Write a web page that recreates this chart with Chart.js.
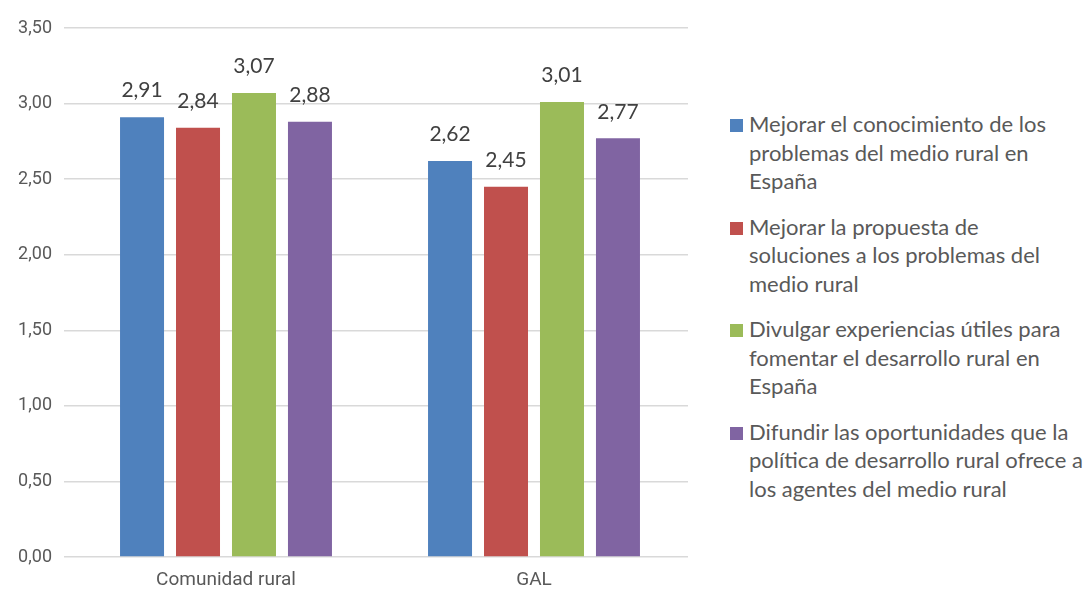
<!DOCTYPE html>
<html>
<head>
<meta charset="utf-8">
<script src="https://cdn.jsdelivr.net/npm/chart.js@4/dist/chart.umd.min.js"></script>
<style>
  body { margin: 0; background: #fff; }
  #wrap { position: relative; width: 1092px; height: 595px; }
  #box { position: absolute; left: 0; top: 0; width: 690px; height: 595px; }
  #legend { position: absolute; left: 730px; top: 110px; width: 362px;
    font-family: Lato, sans-serif; font-size: 22px; color: #595959; line-height: 28.5px; }
  .item { position: relative; padding-left: 19px; margin-bottom: 17px; white-space: pre-line; }
  .item span { position: absolute; left: 0; top: 9px; width: 13px; height: 13px; }
</style>
</head>
<body>
<div id="wrap">
  <div id="box"><canvas id="chart"></canvas></div>
  <div id="legend"></div>
</div>
<script>
const categories = ['Comunidad rural', 'GAL'];
const seriesNames = [
  'Mejorar el conocimiento de los\nproblemas del medio rural en\nEspaña',
  'Mejorar la propuesta de\nsoluciones a los problemas del\nmedio rural',
  'Divulgar experiencias útiles para\nfomentar el desarrollo rural en\nEspaña',
  'Difundir las oportunidades que la\npolítica de desarrollo rural ofrece a\nlos agentes del medio rural'
];
const mejorarConocimiento = [2.91, 2.62];
const mejorarPropuesta = [2.84, 2.45];
const divulgar = [3.07, 3.01];
const difundir = [2.88, 2.77];
const colors = ['#4F81BD', '#C0504D', '#9BBB59', '#8064A2'];

const fmt = v => v.toFixed(2).replace('.', ',');

// value labels above each bar
const valueLabels = {
  id: 'valueLabels',
  afterDatasetsDraw(chart) {
    const ctx = chart.ctx;
    ctx.save();
    ctx.font = '21px Lato, sans-serif';
    ctx.fillStyle = '#404040';
    ctx.textAlign = 'center';
    ctx.textBaseline = 'bottom';
    chart.data.datasets.forEach((ds, i) => {
      chart.getDatasetMeta(i).data.forEach((bar, j) => {
        ctx.fillText(fmt(ds.data[j]), bar.x, bar.y - 16);
      });
    });
    ctx.restore();
  }
};

const allSeries = [mejorarConocimiento, mejorarPropuesta, divulgar, difundir];

new Chart(document.getElementById('chart'), {
  type: 'bar',
  data: {
    labels: categories,
    datasets: allSeries.map((d, i) => ({
      label: seriesNames[i],
      data: d,
      backgroundColor: colors[i],
      categoryPercentage: 0.727,
      barPercentage: 0.786
    }))
  },
  options: {
    responsive: true,
    maintainAspectRatio: false,
    animation: false,
    layout: { padding: { top: 28, right: 2 } },
    plugins: { legend: { display: false }, tooltip: { enabled: false } },
    scales: {
      x: {
        grid: { display: false },
        border: { display: false },
        ticks: { color: '#595959', font: { family: 'Roboto', size: 19 }, padding: 4 },
        afterFit(s) { s.height = 38; }
      },
      y: {
        min: 0, max: 3.5,
        grid: { color: '#d9d9d9', lineWidth: 1.5, tickLength: 8 },
        border: { display: false },
        ticks: {
          stepSize: 0.5, color: '#595959', padding: 12,
          font: { family: 'Roboto', size: 18 },
          callback: v => fmt(v)
        },
        afterFit(s) { s.width = 72; }
      }
    }
  },
  plugins: [valueLabels]
});

// legend on the right
const legend = document.getElementById('legend');
seriesNames.forEach((name, i) => {
  const item = document.createElement('div');
  item.className = 'item';
  item.innerHTML = '<span style="background:' + colors[i] + '"></span>';
  item.appendChild(document.createTextNode(name));
  legend.appendChild(item);
});
</script>
</body>
</html>
